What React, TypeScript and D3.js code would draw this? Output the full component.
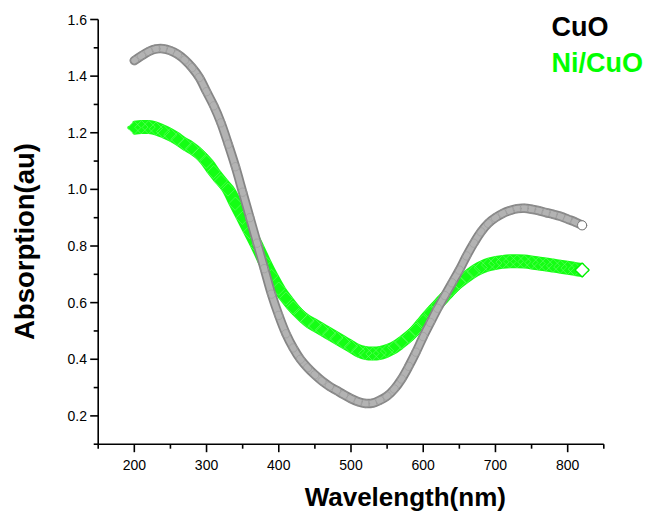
import React from 'react';
import * as d3 from 'd3';

const WAVELENGTHS = [
  200, 210, 220, 230, 240, 250, 260, 270, 280, 290,
  300, 310, 320, 330, 340, 350, 360, 370, 380, 390,
  400, 410, 420, 430, 440, 450, 460, 470, 480, 490,
  500, 510, 520, 530, 540, 550, 560, 570, 580, 590,
  600, 610, 620, 630, 640, 650, 660, 670, 680, 690,
  700, 710, 720, 730, 740, 750, 760, 770, 780, 790,
  800, 810, 820,
];

const CUO = [
  1.455, 1.472, 1.487, 1.496, 1.497, 1.49, 1.477, 1.457, 1.43, 1.395,
  1.345, 1.295, 1.235, 1.16, 1.08, 0.99, 0.9, 0.81, 0.72, 0.63,
  0.555, 0.49, 0.44, 0.4, 0.37, 0.345, 0.323, 0.305, 0.29, 0.275,
  0.261, 0.25, 0.244, 0.245, 0.255, 0.27, 0.295, 0.33, 0.375, 0.425,
  0.48, 0.53, 0.58, 0.625, 0.67, 0.715, 0.765, 0.81, 0.85, 0.88,
  0.9, 0.915, 0.925, 0.932, 0.933, 0.93, 0.925, 0.918, 0.912, 0.905,
  0.895, 0.885, 0.873,
];

const NICUO = [
  1.218, 1.22, 1.22, 1.215, 1.205, 1.193, 1.178, 1.16, 1.145, 1.125,
  1.098, 1.062, 1.03, 1.0, 0.95, 0.9, 0.85, 0.8, 0.745, 0.695,
  0.65, 0.615, 0.583, 0.556, 0.535, 0.52, 0.505, 0.49, 0.475, 0.46,
  0.445, 0.43, 0.422, 0.42, 0.422, 0.43, 0.442, 0.46, 0.48, 0.505,
  0.535, 0.565, 0.593, 0.62, 0.648, 0.672, 0.692, 0.71, 0.724, 0.734,
  0.74, 0.744, 0.746, 0.746, 0.745, 0.742, 0.738, 0.735, 0.731, 0.727,
  0.723, 0.719, 0.715,
];

const X_TICKS = [200, 300, 400, 500, 600, 700, 800];
const X_MINOR = [150, 250, 350, 450, 550, 650, 750, 850];
const Y_TICKS = [0.2, 0.4, 0.6, 0.8, 1.0, 1.2, 1.4, 1.6];
const Y_MINOR = [0.1, 0.3, 0.5, 0.7, 0.9, 1.1, 1.3, 1.5];
const SERIES_NAMES = ['CuO', 'Ni/CuO'];
const X_TITLE = 'Wavelength(nm)';
const Y_TITLE = 'Absorption(au)';

const FONT = '"Liberation Sans", Arial, Helvetica, sans-serif';

export default function App() {
  const x = d3.scaleLinear().domain([150, 850]).range([98.2, 603.8]);
  const y = d3.scaleLinear().domain([0.1, 1.6]).range([444.2, 19.5]);
  const line = d3.line<[number, number]>().curve(d3.curveCatmullRom.alpha(0.5));

  const cuoPts: [number, number][] = WAVELENGTHS.map((w, i) => [x(w), y(CUO[i])]);
  const niPts: [number, number][] = WAVELENGTHS.map((w, i) => [x(w), y(NICUO[i])]);
  const cuoPath = line(cuoPts) || '';
  const niPath = line(niPts) || '';

  const green = '#14ff14';
  const diamond = (cx: number, cy: number, r: number) =>
    `M${cx - r},${cy}L${cx},${cy - r}L${cx + r},${cy}L${cx},${cy + r}Z`;

  const axisY = y(0.1);
  const axisX = x(150);
  const lastCu = cuoPts[cuoPts.length - 1];
  const lastNi = niPts[niPts.length - 1];

  return (
    <svg
      width={648}
      height={513}
      style={{ position: 'absolute', left: 0, top: 0, background: '#fff' }}
      fontFamily={FONT}
    >
      <rect x={0} y={0} width={648} height={513} fill="#fff" />

      {/* Ni/CuO band (dense open diamonds) */}
      <g fill="none" strokeLinecap="round" strokeLinejoin="round">
        {[[0, -5], [0, 5], [-5, 0], [5, 0]].map(([dx, dy], i) => (
          <path key={i} d={niPath} transform={`translate(${dx},${dy})`} stroke={green} strokeWidth={4} />
        ))}
        <path d={niPath} stroke={green} strokeWidth={10} />
        {niPts.map((p, i) => (
          <path key={i} d={diamond(p[0], p[1], 6.5)} stroke="#6aff6a" strokeWidth={0.6} />
        ))}
        <path d={diamond(lastNi[0], lastNi[1], 7)} fill="#fff" stroke="#00f000" strokeWidth={1.3} />
      </g>

      {/* CuO band (dense open circles) */}
      <g fill="none" strokeLinecap="round" strokeLinejoin="round">
        <path d={cuoPath} stroke="#858585" strokeWidth={9.5} />
        <path d={cuoPath} stroke="#b3b3b3" strokeWidth={6} />
        {cuoPts.map((p, i) => (
          <circle key={i} cx={p[0]} cy={p[1]} r={4.2} stroke="#999" strokeWidth={0.6} />
        ))}
        <circle cx={lastCu[0]} cy={lastCu[1]} r={4.6} fill="#fff" stroke="#777" strokeWidth={1} />
      </g>

      {/* axes */}
      <g stroke="#000" strokeWidth={1.6} fill="none">
        <line x1={axisX} x2={x(850)} y1={axisY} y2={axisY} />
        <line x1={axisX} x2={axisX} y1={axisY} y2={y(1.6)} />
        {X_TICKS.map((t) => (
          <line key={t} x1={x(t)} x2={x(t)} y1={axisY} y2={axisY + 8} />
        ))}
        {X_MINOR.map((t) => (
          <line key={t} x1={x(t)} x2={x(t)} y1={axisY} y2={axisY + 4.5} />
        ))}
        {Y_TICKS.map((t) => (
          <line key={t} x1={axisX} x2={axisX - 8} y1={y(t)} y2={y(t)} />
        ))}
        {Y_MINOR.map((t) => (
          <line key={t} x1={axisX} x2={axisX - 4.5} y1={y(t)} y2={y(t)} />
        ))}
      </g>

      <g fontSize={14} fill="#000">
        {X_TICKS.map((t) => (
          <text key={t} x={x(t)} y={469.5} textAnchor="middle">{t}</text>
        ))}
        {Y_TICKS.map((t) => (
          <text key={t} x={87} y={y(t) + 5} textAnchor="end">{t.toFixed(1)}</text>
        ))}
      </g>

      <text x={405.3} y={506} textAnchor="middle" fontSize={26} fontWeight="bold" fill="#000">
        {X_TITLE}
      </text>
      <text
        transform={`translate(33.5,241.5) rotate(-90)`}
        textAnchor="middle"
        fontSize={27.5}
        fontWeight="bold"
        fill="#000"
      >
        {Y_TITLE}
      </text>

      <text x={551.5} y={36} fontSize={27} fontWeight="bold" fill="#000">{SERIES_NAMES[0]}</text>
      <text x={551.5} y={71.5} fontSize={27} fontWeight="bold" fill="#00ff00">{SERIES_NAMES[1]}</text>
    </svg>
  );
}
